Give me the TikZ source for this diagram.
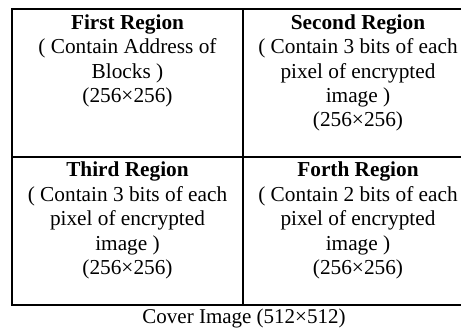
\documentclass[tikz,border=0pt]{standalone}
\usepackage{fontspec}
\setmainfont{Liberation Serif}
\begin{document}
\begin{tikzpicture}[x=1pt,y=-1pt,
  grid/.style={line width=1.9pt,black,line cap=rect},
  cell/.style={anchor=base,align=center,inner sep=0pt,font=\fontsize{21.3}{24.5}\selectfont},
  capt/.style={anchor=base,inner sep=0pt,font=\fontsize{21}{24}\selectfont}]
\useasboundingbox (0,0) rectangle (461,329);
\clip (0,0) rectangle (461,329);
\coordinate (tl) at (12,9);
\coordinate (tr) at (470,9);
\coordinate (ml) at (12,157);
\coordinate (mr) at (470,157);
\coordinate (bl) at (12,305);
\coordinate (br) at (470,305);
\coordinate (vt) at (243,9);
\coordinate (vb) at (243,305);
\draw[grid] (tr) -- (tl) -- (bl) -- (br);
\draw[grid] (ml) -- (mr);
\draw[grid] (vt) -- (vb);
% anchor=base is the baseline of the last line
\node[cell] (first) at (127.5,102.5) {\textbf{First Region}\\( Contain Address of\\Blocks )\\(256×256)};
\node[cell] (second) at (358,127) {\textbf{Second Region}\\( Contain 3 bits of each\\pixel of encrypted\\image )\\(256×256)};
\node[cell] (third) at (127.5,274.5) {\textbf{Third Region}\\( Contain 3 bits of each\\pixel of encrypted\\image )\\(256×256)};
\node[cell] (forth) at (358,274.5) {\textbf{Forth Region}\\( Contain 2 bits of each\\pixel of encrypted\\image )\\(256×256)};
\node[capt] (cover) at (244,323.5) {Cover Image (512×512)};
\end{tikzpicture}
\end{document}
